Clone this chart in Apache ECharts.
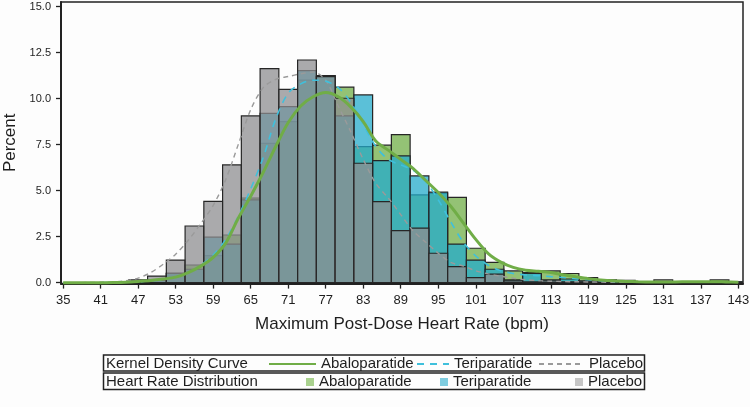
<!DOCTYPE html>
<html>
<head>
<meta charset="utf-8">
<title>Maximum Post-Dose Heart Rate</title>
<script src="https://cdn.jsdelivr.net/npm/echarts@6/dist/echarts.min.js"></script>
<style>
  html, body { margin: 0; padding: 0; background: #fdfdfd; }
  #chart { width: 750px; height: 407px; }
</style>
</head>
<body>
<div id="chart"></div>
<script>
// histogram bins (bpm, bin width 3) and percent per arm
const binCenters = [35, 38, 41, 44, 47, 50, 53, 56, 59, 62, 65, 68, 71, 74, 77, 80, 83, 86, 89, 92, 95, 98, 101, 104, 107, 110, 113, 116, 119, 122, 125, 128, 131, 134, 137, 140, 143];
const histAbalo = [0, 0, 0, 0, 0.05, 0.15, 0.52, 0.96, 1.47, 2.59, 4.6, 7.57, 8.75, 11.0, 11.25, 10.62, 7.39, 7.47, 8.04, 4.77, 4.87, 4.64, 1.87, 1.1, 0.64, 0.55, 0.64, 0.5, 0.27, 0.15, 0.12, 0.05, 0.05, 0.05, 0.05, 0.15, 0.05];
const histTeri = [0, 0, 0, 0, 0.05, 0.13, 0.5, 0.73, 2.47, 2.09, 4.5, 9.2, 9.57, 11.52, 11.25, 9.06, 10.2, 6.63, 6.89, 5.8, 4.92, 2.1, 1.23, 0.73, 0.15, 0.5, 0.15, 0.2, 0.1, 0.05, 0.05, 0.05, 0, 0.05, 0, 0, 0.05];
const histPlacebo = [0, 0, 0, 0, 0.15, 0.36, 1.23, 3.08, 4.42, 6.4, 9.06, 11.63, 10.5, 12.1, 11.2, 10.02, 6.49, 4.4, 2.83, 2.96, 1.6, 0.87, 0.27, 0.47, 0.1, 0.05, 0.1, 0.05, 0.05, 0, 0.05, 0, 0.15, 0, 0, 0, 0];
const binWidth = 3;

// kernel density curves, sampled every 2 bpm
const kdeX = [35, 37, 39, 41, 43, 45, 47, 49, 51, 53, 55, 57, 59, 61, 63, 65, 67, 69, 71, 73, 75, 77, 79, 81, 83, 85, 87, 89, 91, 93, 95, 97, 99, 101, 103, 105, 107, 109, 111, 113, 115, 117, 119, 121, 123, 125, 127, 129, 131, 133, 135, 137, 139, 141, 143];
const kdeAbalo = [0, 0, 0, 0, 0.01, 0.03, 0.07, 0.12, 0.2, 0.3, 0.55, 0.9, 1.38, 2.15, 3.5, 4.7, 6.0, 7.4, 8.7, 9.6, 10.1, 10.33, 10.1, 9.55, 8.75, 7.7, 7.2, 6.7, 6.2, 5.55, 4.9, 4.15, 3.25, 2.35, 1.58, 1.12, 0.83, 0.68, 0.62, 0.55, 0.43, 0.32, 0.22, 0.15, 0.1, 0.07, 0.05, 0.04, 0.04, 0.04, 0.05, 0.05, 0.05, 0.04, 0.03];
const kdeTeri = [0, 0, 0, 0, 0.01, 0.02, 0.05, 0.1, 0.18, 0.3, 0.55, 0.95, 1.5, 2.35, 3.6, 5.1, 6.8, 8.9, 10.3, 10.8, 11.0, 10.95, 10.6, 9.8, 8.6, 7.4, 6.7, 6.4, 6.1, 5.5, 4.5, 3.3, 2.2, 1.45, 0.95, 0.65, 0.5, 0.42, 0.38, 0.33, 0.28, 0.22, 0.16, 0.11, 0.07, 0.05, 0.04, 0.03, 0.03, 0.03, 0.03, 0.03, 0.03, 0.02, 0.02];
const kdePlacebo = [0, 0, 0.01, 0.02, 0.04, 0.1, 0.25, 0.55, 1.0, 1.55, 2.3, 3.2, 4.2, 5.6, 7.5, 9.4, 10.6, 11.05, 11.2, 11.35, 11.45, 11.0, 9.6, 8.2, 6.7, 5.4, 4.6, 3.7, 2.8, 2.2, 1.6, 1.1, 0.9, 0.65, 0.48, 0.35, 0.24, 0.16, 0.11, 0.08, 0.06, 0.05, 0.04, 0.03, 0.02, 0.02, 0.02, 0.02, 0.02, 0.02, 0.02, 0.02, 0.02, 0.02, 0.02];

const xTicks = [35, 41, 47, 53, 59, 65, 71, 77, 83, 89, 95, 101, 107, 113, 119, 125, 131, 137, 143];
const yTicks = [0, 2.5, 5, 7.5, 10, 12.5, 15];

const FONT = '"Liberation Sans", Arial, sans-serif';
const INK = '#1e1e1e';

function histSeries(name, values, fill) {
  return {
    type: 'custom',
    name: name,
    clip: true,
    itemStyle: { color: fill },
    data: binCenters.map((c, i) => [c, values[i]]).filter(d => d[1] > 0),
    encode: { x: 0, y: 1 },
    renderItem: function (params, api) {
      const c = api.value(0), v = api.value(1);
      const p0 = api.coord([c - binWidth / 2, v]);
      const p1 = api.coord([c + binWidth / 2, 0]);
      return {
        type: 'rect',
        shape: { x: p0[0], y: p0[1], width: p1[0] - p0[0], height: p1[1] - p0[1] },
        style: { fill: fill, stroke: '#262626', lineWidth: 1.2 }
      };
    }
  };
}

function kdeSeries(name, values, lineStyle) {
  return {
    type: 'line',
    name: name,
    data: kdeX.map((x, i) => [x, values[i]]),
    symbol: 'none',
    showSymbol: false,
    smooth: 0.3,
    lineStyle: lineStyle,
    itemStyle: { color: lineStyle.color },
    z: 5
  };
}

function legendItem(item, label, left, top, w, h) {
  return {
    data: [item],
    left: left, top: top,
    padding: 0,
    itemWidth: w, itemHeight: h,
    selectedMode: false,
    formatter: label,
    textStyle: { fontFamily: FONT, fontSize: 15, color: INK }
  };
}

// line icons only, hide the marker dot ECharts puts in a line legend icon
const lineIcon = name => ({ name: name, itemStyle: { opacity: 0 } });
const boxIcon = (name, color) => ({ name: name, icon: 'rect', itemStyle: { color: color, borderWidth: 0 } });

const chart = echarts.init(document.getElementById('chart'));
chart.setOption({
  animation: false,
  backgroundColor: '#fdfdfd',
  grid: {
    left: 61, top: 2, width: 682, height: 281.6,
    show: true, borderColor: '#222', borderWidth: 1.5, backgroundColor: '#fdfdfd',
    outerBoundsMode: 'none'
  },
  xAxis: {
    type: 'value',
    min: 34.65, max: 143.75,
    name: 'Maximum Post-Dose Heart Rate (bpm)',
    nameLocation: 'middle',
    nameGap: 32,
    nameTextStyle: { fontFamily: FONT, fontSize: 17, color: INK },
    axisLine: { show: true, onZero: false, lineStyle: { color: '#222', width: 2 } },
    axisTick: { show: true, length: 5, customValues: xTicks, lineStyle: { color: '#222', width: 1.3 } },
    axisLabel: { customValues: xTicks, margin: 10, fontFamily: FONT, fontSize: 13, color: INK },
    splitLine: { show: false }
  },
  yAxis: {
    type: 'value',
    min: -0.05, max: 15.25,
    name: 'Percent',
    nameLocation: 'middle',
    nameGap: 42,
    nameTextStyle: { fontFamily: FONT, fontSize: 17, color: INK },
    axisLine: { show: true, lineStyle: { color: '#222', width: 2 } },
    axisTick: { show: true, length: 5, customValues: yTicks, lineStyle: { color: '#222', width: 1.3 } },
    axisLabel: { customValues: yTicks, margin: 10, fontFamily: FONT, fontSize: 11, color: INK,
      formatter: v => v.toFixed(1) },
    splitLine: { show: false }
  },
  legend: [
    legendItem(lineIcon('kdeA'), 'Abaloparatide', 268, 356.5, 47, 14),
    legendItem(lineIcon('kdeT'), 'Teriparatide', 416, 356.5, 32, 14),
    legendItem(lineIcon('kdeP'), 'Placebo', 538, 356.5, 45, 14),
    legendItem(boxIcon('histA', '#a9d18e'), 'Abaloparatide', 306, 374.5, 8, 8),
    legendItem(boxIcon('histT', '#7fcde0'), 'Teriparatide', 440, 374.5, 8, 8),
    legendItem(boxIcon('histP', '#c6c6c6'), 'Placebo', 575, 374.5, 8, 8)
  ],
  graphic: [
    { type: 'rect', shape: { x: 103.5, y: 355, width: 541, height: 16 },
      style: { fill: 'none', stroke: '#222', lineWidth: 1.5 } },
    { type: 'rect', shape: { x: 103.5, y: 373, width: 541, height: 16.5 },
      style: { fill: 'none', stroke: '#222', lineWidth: 1.5 } },
    { type: 'text', x: 106, y: 363.5,
      style: { text: 'Kernel Density Curve', font: '15px ' + FONT, fill: INK, verticalAlign: 'middle' } },
    { type: 'text', x: 106, y: 381.5,
      style: { text: 'Heart Rate Distribution', font: '15px ' + FONT, fill: INK, verticalAlign: 'middle' } }
  ],
  series: [
    histSeries('histA', histAbalo, 'rgba(112,173,71,0.75)'),
    histSeries('histT', histTeri, 'rgba(36,171,203,0.75)'),
    histSeries('histP', histPlacebo, 'rgba(141,141,144,0.75)'),
    kdeSeries('kdeP', kdePlacebo, { color: '#9a9a9a', width: 1.4, type: [5, 4] }),
    kdeSeries('kdeT', kdeTeri, { color: '#3fc0dc', width: 1.6, type: [7, 6] }),
    kdeSeries('kdeA', kdeAbalo, { color: '#70ad47', width: 3 })
  ]
});
</script>
</body>
</html>
